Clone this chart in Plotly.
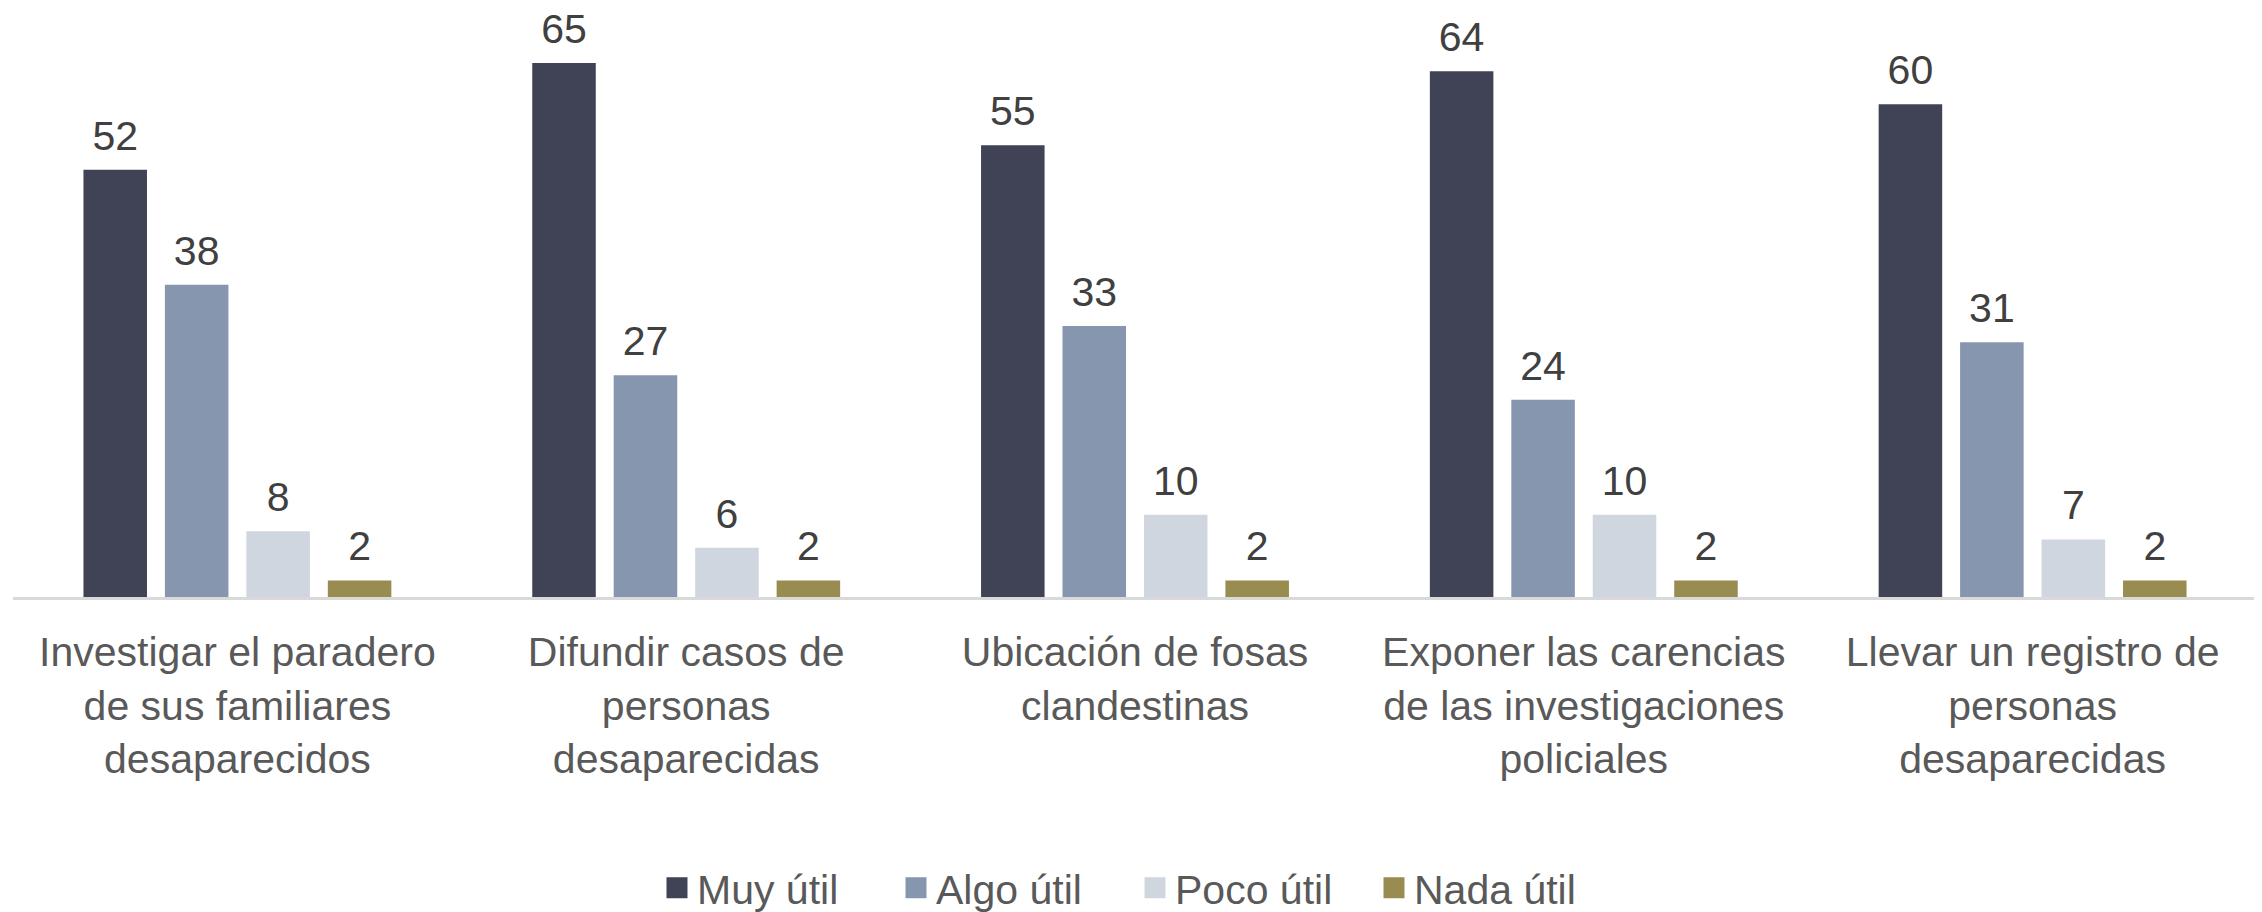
import plotly.graph_objects as go

categories = [
    "Investigar el paradero<br>de sus familiares<br>desaparecidos",
    "Difundir casos de<br>personas<br>desaparecidas",
    "Ubicación de fosas<br>clandestinas",
    "Exponer las carencias<br>de las investigaciones<br>policiales",
    "Llevar un registro de<br>personas<br>desaparecidas",
]
series_names = ["Muy útil", "Algo útil", "Poco útil", "Nada útil"]
muy_util = [52, 65, 55, 64, 60]
algo_util = [38, 27, 33, 24, 31]
poco_util = [8, 6, 10, 10, 7]
nada_util = [2, 2, 2, 2, 2]
colors = ["#404356", "#8696AF", "#CFD6E0", "#988C50"]

values = [muy_util, algo_util, poco_util, nada_util]

FONT = "Liberation Sans"
LABEL_GAP = 1.0  # extra spacing (in axis units) between bar top and its value label

fig = go.Figure()
for i, (name, vals, col) in enumerate(zip(series_names, values, colors)):
    fig.add_trace(go.Bar(
        x=categories, y=vals, name=name, offsetgroup=str(i),
        marker=dict(color=col, line=dict(width=0)),
        showlegend=False, hoverinfo="x+y+name",
    ))
    # transparent spacer carrying the value label slightly above the bar
    fig.add_trace(go.Bar(
        x=categories, y=[LABEL_GAP] * len(vals), base=vals, offsetgroup=str(i),
        marker=dict(color="rgba(0,0,0,0)", line=dict(width=0)),
        text=[str(v) for v in vals], textposition="outside",
        textfont=dict(family=FONT, size=41, color="#404040"),
        cliponaxis=False, showlegend=False, hoverinfo="skip",
    ))
# legend entries with larger square swatches
for name, col in zip(series_names, colors):
    fig.add_trace(go.Scatter(
        x=[None], y=[None], mode="markers", name=name,
        marker=dict(symbol="square", size=16, color=col, line=dict(color=col, width=5)),
        showlegend=True,
    ))

fig.update_layout(
    width=2262, height=912,
    margin=dict(l=5, r=13, t=14, b=323),
    paper_bgcolor="white", plot_bgcolor="white",
    barmode="group", bargap=0.274, bargroupgap=0.22,
    font=dict(family=FONT, size=41, color="#595959"),
    legend=dict(
        orientation="h", x=0.5, xanchor="center",
        yref="container", y=0.035, yanchor="middle",
        font=dict(family=FONT, size=41, color="#595959"),
        entrywidthmode="pixels", entrywidth=194,
        itemclick=False,
    ),
    xaxis=dict(
        showline=True, linecolor="#D9D9D9", linewidth=3,
        ticks="", showgrid=False, ticklabelstandoff=17,
        tickfont=dict(family=FONT, size=41, color="#595959"),
    ),
    yaxis=dict(range=[0, 70], visible=False, showgrid=False, zeroline=False),
)

fig.write_html("out.html")
